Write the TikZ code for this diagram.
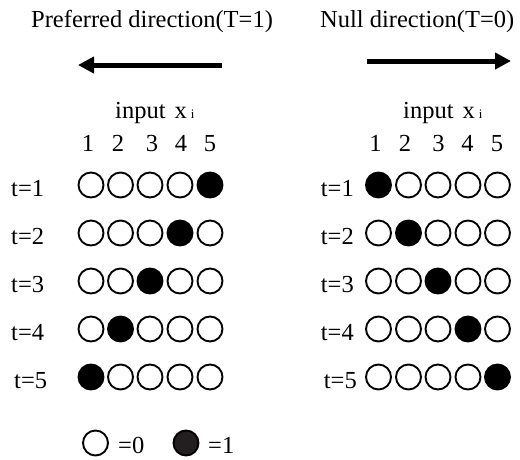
\documentclass[tikz,border=0pt]{standalone}
\usepackage{fontspec}
\setmainfont{Liberation Serif}
\usetikzlibrary{arrows.meta}
\definecolor{leggray}{HTML}{231F20}
\begin{document}
\begin{tikzpicture}[x=1pt,y=-1pt,
  txt/.style={font=\fontsize{24.5}{28}\selectfont, inner sep=0pt},
  off/.style={circle, draw=black, line width=1.9pt, minimum size=25pt, inner sep=0pt, fill=white},
  on/.style={off, fill=black},
  bigarrow/.style={line width=5pt, -{Triangle[length=16pt,width=16pt]}}]
\useasboundingbox (0,0) rectangle (520,459);
% titles
\node[txt, anchor=base west] (titleL) at (31,27) {Preferred direction(T=1)};
\node[txt, anchor=base west] (titleR) at (320,27) {Null direction(T=0)};
% arrows
\coordinate (la1) at (222,65);
\coordinate (la2) at (78,65);
\draw[bigarrow] (la1) -- (la2);
\coordinate (ra1) at (367,61);
\coordinate (ra2) at (511,61);
\draw[bigarrow] (ra1) -- (ra2);
% input labels
\node[txt, anchor=base west] (inL) at (115,118) {input\hspace{9pt}x\hspace{4pt}{\fontsize{13}{13}\selectfont i}};
\node[txt, anchor=base west] (inR) at (403,118) {input\hspace{9pt}x\hspace{4pt}{\fontsize{13}{13}\selectfont i}};
% column numbers
\foreach \c/\x in {1/88,2/118,3/152,4/181,5/210} {
  \node[txt, anchor=base] (nL\c) at (\x,151) {\c};
}
\foreach \c/\x in {1/375.5,2/405,3/438.5,4/467.5,5/497} {
  \node[txt, anchor=base] (nR\c) at (\x,151) {\c};
}
% rows
\foreach \r/\y in {1/185,2/233,3/281,4/329,5/377} {
  \foreach \c/\x in {1/91,2/120.5,3/150,4/180,5/210} {
    \ifnum\c=\numexpr6-\r\relax \def\st{on}\else\def\st{off}\fi
    \node[\st] (L\r\c) at (\x,\y) {};
  }
  \foreach \c/\x in {1/378.5,2/408.5,3/438,4/468,5/497.5} {
    \ifnum\c=\r \def\st{on}\else\def\st{off}\fi
    \node[\st] (R\r\c) at (\x,\y) {};
  }
}
\node[txt, anchor=base west] (tL1) at (11,196) {t=1};
\node[txt, anchor=base west] (tL2) at (11,244) {t=2};
\node[txt, anchor=base west] (tL3) at (11,292) {t=3};
\node[txt, anchor=base west] (tL4) at (11,340) {t=4};
\node[txt, anchor=base west] (tL5) at (14,388) {t=5};
\node[txt, anchor=base east] (tR1) at (354,196) {t=1};
\node[txt, anchor=base east] (tR2) at (354,244) {t=2};
\node[txt, anchor=base east] (tR3) at (354,292) {t=3};
\node[txt, anchor=base east] (tR4) at (354,340) {t=4};
\node[txt, anchor=base east] (tR5) at (357,388) {t=5};
% legend
\node[off] (leg0) at (95.5,443) {};
\node[txt, anchor=base west] (leg0t) at (118,453) {=0};
\node[on, fill=leggray] (leg1) at (186,443) {};
\node[txt, anchor=base west] (leg1t) at (208,453) {=1};
\end{tikzpicture}
\end{document}
